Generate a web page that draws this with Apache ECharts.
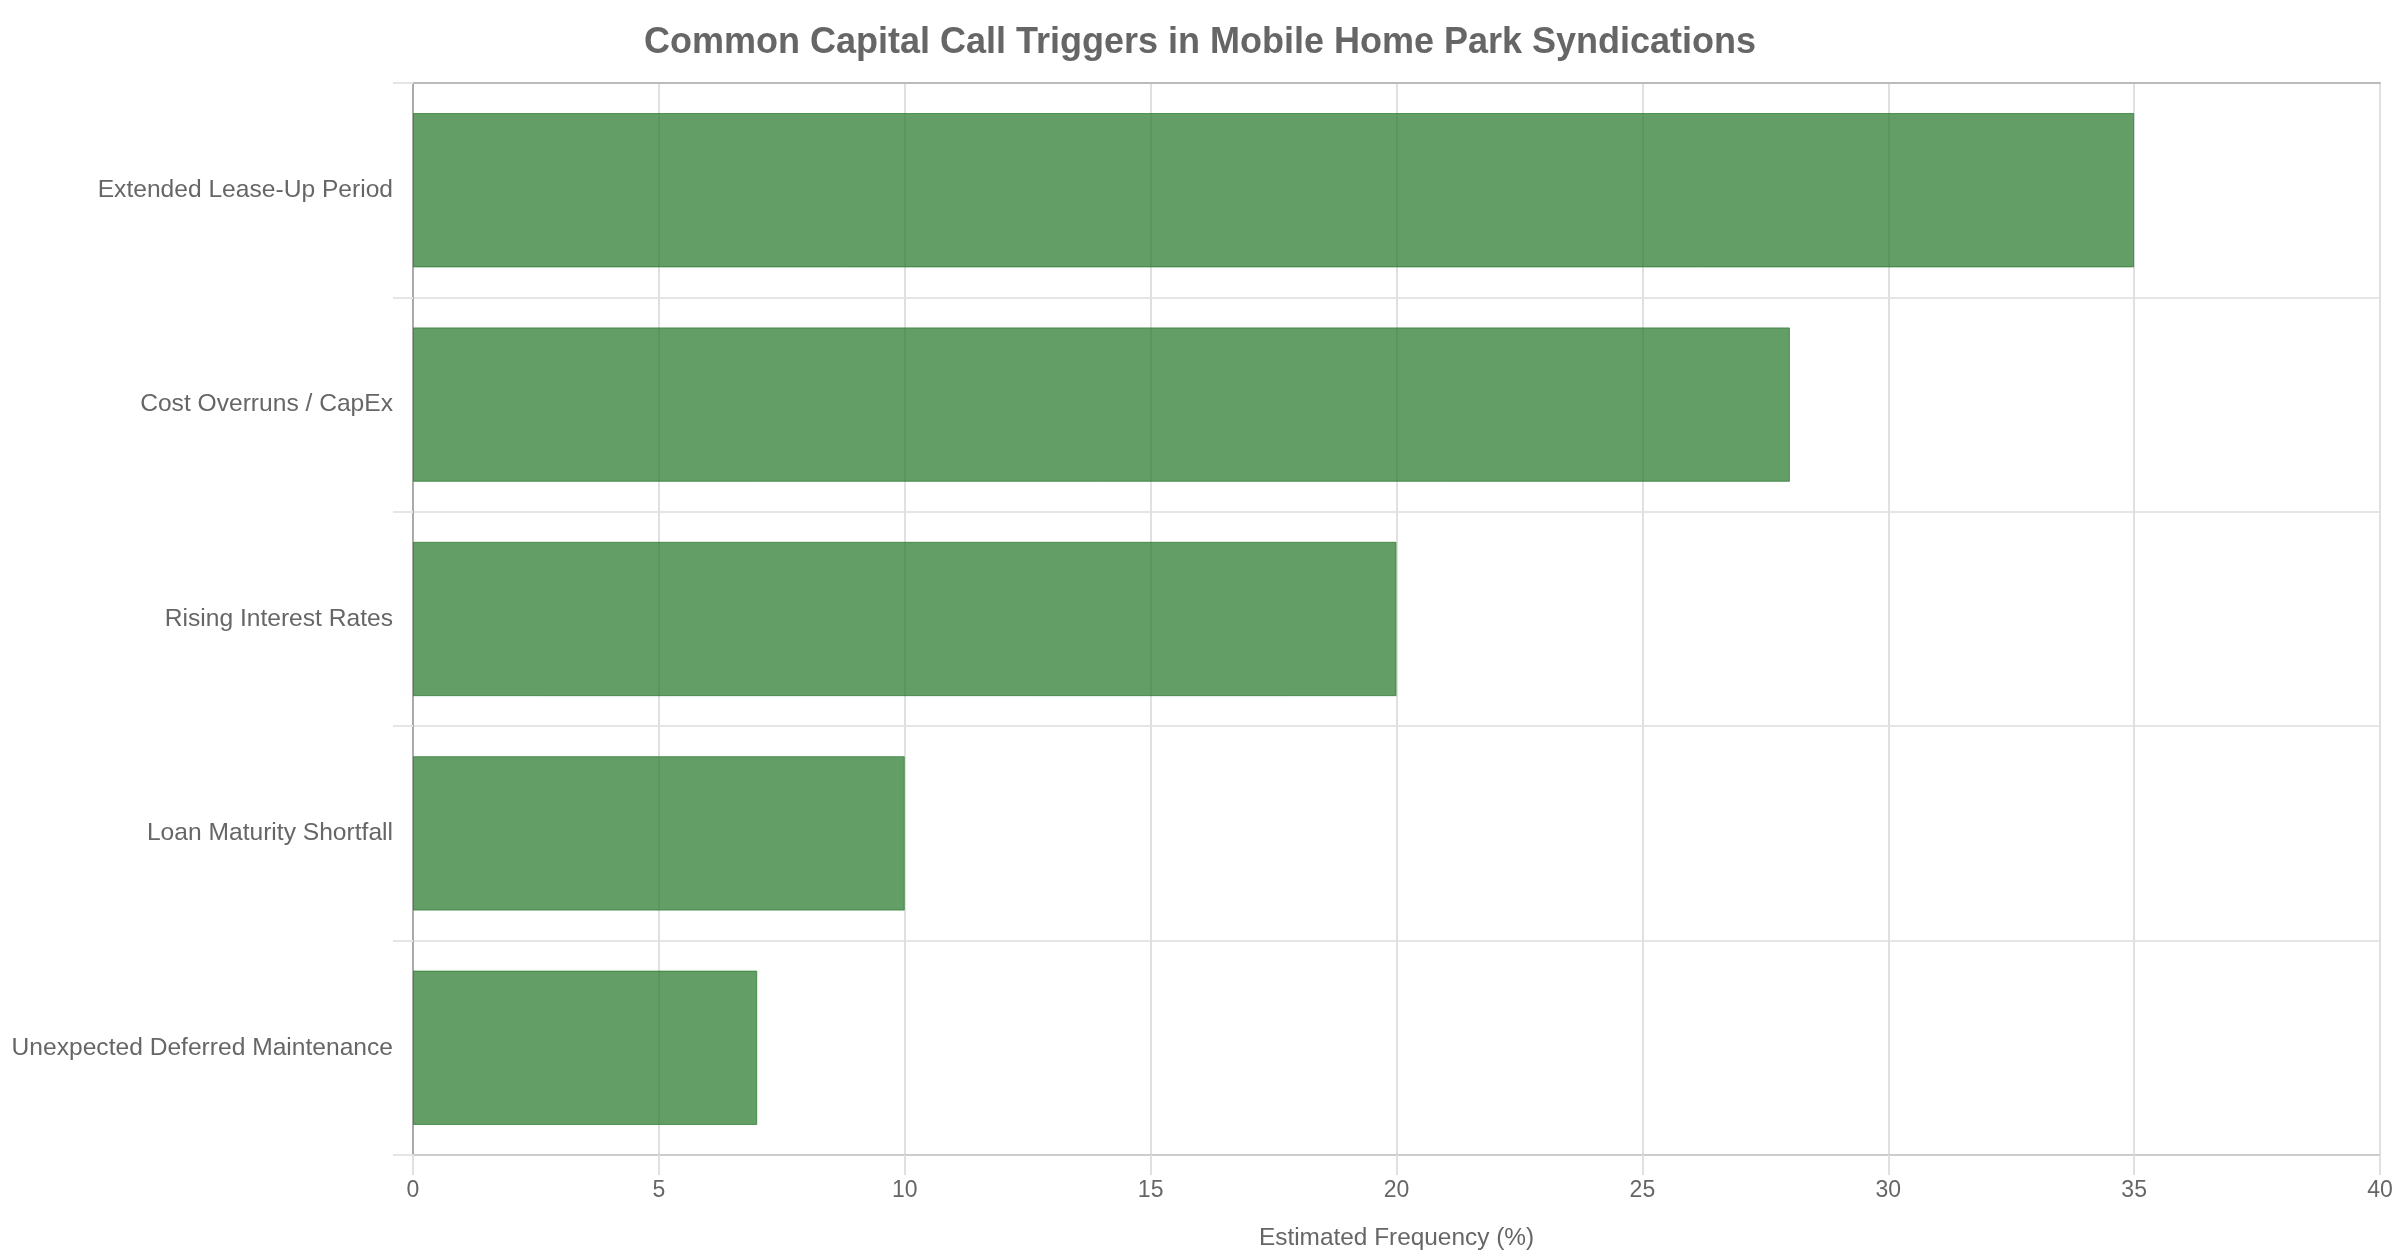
<!DOCTYPE html>
<html>
<head>
<meta charset="utf-8">
<script src="https://cdn.jsdelivr.net/npm/echarts@6/dist/echarts.min.js"></script>
<style>
html,body{margin:0;padding:0;background:#fff;}
#chart{width:2400px;height:1260px;}
</style>
</head>
<body>
<div id="chart"></div>
<script>
var titleText = 'Common Capital Call Triggers in Mobile Home Park Syndications';
var categories = ['Extended Lease-Up Period', 'Cost Overruns / CapEx', 'Rising Interest Rates', 'Loan Maturity Shortfall', 'Unexpected Deferred Maintenance'];
var frequency = [35, 28, 20, 10, 7];
var xAxisName = 'Estimated Frequency (%)';
var xMin = 0, xMax = 40, xStep = 5;

var chart = echarts.init(document.getElementById('chart'));
var FONT = 'Liberation Sans, Arial, sans-serif';
chart.setOption({
  backgroundColor: '#ffffff',
  animation: false,
  textStyle: { fontFamily: FONT },
  title: {
    text: titleText,
    left: 'center',
    top: 20,
    textStyle: { fontFamily: FONT, fontSize: 36, fontWeight: 'bold', color: '#666666' }
  },
  grid: { left: 413, right: 20, top: 83, bottom: 105, containLabel: false },
  xAxis: [{
    type: 'value',
    position: 'bottom',
    min: xMin, max: xMax, interval: xStep,
    name: xAxisName,
    nameLocation: 'middle',
    nameGap: 71,
    nameTextStyle: { fontFamily: FONT, fontSize: 24.4, color: '#666666' },
    axisLine: { show: true, lineStyle: { color: '#cccccc', width: 2 } },
    axisTick: { show: true, length: 20, lineStyle: { color: '#e0e0e0', width: 2 } },
    axisLabel: { fontFamily: FONT, fontSize: 23, color: '#666666', margin: 24 },
    splitLine: { show: true, lineStyle: { color: '#e0e0e0', width: 2 } }
  }, {
    type: 'value',
    position: 'top',
    min: xMin, max: xMax, interval: xStep,
    axisLine: { show: true, onZero: false, lineStyle: { color: '#bbbbbb', width: 2 } },
    axisTick: { show: false },
    axisLabel: { show: false },
    splitLine: { show: false }
  }],
  yAxis: {
    type: 'category',
    data: categories,
    inverse: true,
    axisLine: { show: true, lineStyle: { color: '#aaaaaa', width: 2 } },
    axisTick: { show: true, length: 20, lineStyle: { color: '#e5e5e5', width: 2 } },
    axisLabel: { fontFamily: FONT, fontSize: 24.6, color: '#666666', margin: 20, padding: [2, 0, 0, 0] },
    splitLine: { show: true, lineStyle: { color: '#e5e5e5', width: 2 } }
  },
  series: [{
    type: 'bar',
    data: frequency,
    barWidth: '72%',
    xAxisIndex: 0,
    itemStyle: { color: '#2E7D32', opacity: 0.75, borderColor: '#2E7D32', borderWidth: 1 }
  }]
});
</script>
</body>
</html>
